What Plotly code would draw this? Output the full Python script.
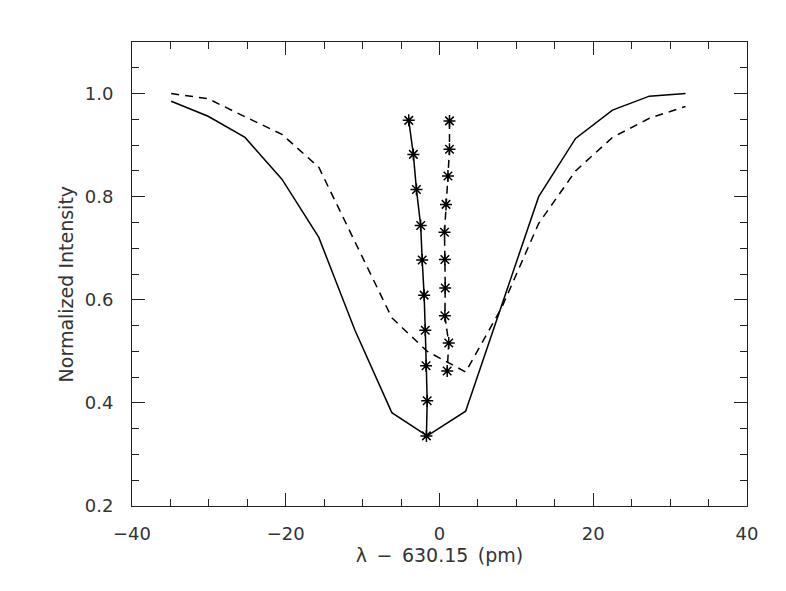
import plotly.graph_objects as go

# Profile curves (wavelength offset in pm, normalized intensity)
wl = [-34.9, -30.1, -25.3, -20.5, -15.7, -11.0, -6.2, -1.6, 3.4, 8.1, 12.9, 17.7, 22.5, 27.3, 32.0]
prof_solid = [0.985, 0.956, 0.915, 0.834, 0.721, 0.541, 0.381, 0.336, 0.384, 0.59, 0.80, 0.913, 0.968, 0.995, 1.0]
prof_dashed = [1.0, 0.99, 0.955, 0.921, 0.857, 0.712, 0.565, 0.50, 0.46, 0.585, 0.748, 0.85, 0.915, 0.952, 0.975]

# Bisector curves (with asterisk markers)
bis_solid_x = [-4.0, -3.4, -3.0, -2.45, -2.25, -2.0, -1.85, -1.75, -1.6, -1.7]
bis_solid_y = [0.948, 0.882, 0.814, 0.744, 0.677, 0.609, 0.541, 0.472, 0.404, 0.336]
bis_dashed_x = [1.3, 1.3, 1.1, 0.85, 0.65, 0.7, 0.75, 0.7, 1.2, 1.0]
bis_dashed_y = [0.947, 0.892, 0.840, 0.785, 0.731, 0.678, 0.623, 0.569, 0.516, 0.462]

x_ticks = [-40, -20, 0, 20, 40]
y_ticks = [0.2, 0.4, 0.6, 0.8, 1.0]
y_tick_text = ["0.2", "0.4", "0.6", "0.8", "1.0"]

fig = go.Figure()
fig.add_trace(go.Scatter(x=wl, y=prof_solid, mode="lines",
                         line=dict(color="black", width=1.5), showlegend=False))
fig.add_trace(go.Scatter(x=wl, y=prof_dashed, mode="lines",
                         line=dict(color="black", width=1.5, dash="8px,6px"), showlegend=False))
fig.add_trace(go.Scatter(x=bis_solid_x, y=bis_solid_y, mode="lines+markers",
                         line=dict(color="black", width=1.5),
                         marker=dict(symbol="asterisk-open", size=10, color="black",
                                     line=dict(color="black", width=1.5)),
                         showlegend=False))
fig.add_trace(go.Scatter(x=bis_dashed_x, y=bis_dashed_y, mode="lines+markers",
                         line=dict(color="black", width=1.5, dash="8px,5px"),
                         marker=dict(symbol="asterisk-open", size=10, color="black",
                                     line=dict(color="black", width=1.5)),
                         showlegend=False))

tick_font = dict(family="DejaVu Sans", size=18, color="#333")
title_font = dict(family="DejaVu Sans", size=19, color="#333")
axis_common = dict(showline=True, linecolor="#222", linewidth=1, mirror="ticks",
                   ticks="inside", ticklen=13, tickcolor="#222", tickwidth=1,
                   showgrid=False, zeroline=False, tickfont=tick_font)

fig.update_xaxes(range=[-40, 40], tickvals=x_ticks, ticklabelstandoff=11,
                 minor=dict(dtick=5, ticks="inside", ticklen=7, tickcolor="#222", showgrid=False),
                 title=dict(text="λ\u2002−\u2002630.15\u2002(pm)", font=title_font, standoff=4),
                 **axis_common)
fig.update_yaxes(range=[0.2, 1.1], tickvals=y_ticks, ticktext=y_tick_text, ticklabelstandoff=14,
                 minor=dict(dtick=0.05, tick0=0.2, ticks="inside", ticklen=7, tickcolor="#222", showgrid=False),
                 **axis_common)

fig.add_annotation(text="Normalized Intensity", xref="paper", yref="paper",
                   x=-0.107, y=0.478, textangle=-90, showarrow=False,
                   xanchor="center", yanchor="middle", font=title_font)

fig.update_layout(width=786, height=591, plot_bgcolor="white", paper_bgcolor="white",
                  margin=dict(l=124, r=47, t=34, b=93), font=title_font)
fig.write_html("out.html")
